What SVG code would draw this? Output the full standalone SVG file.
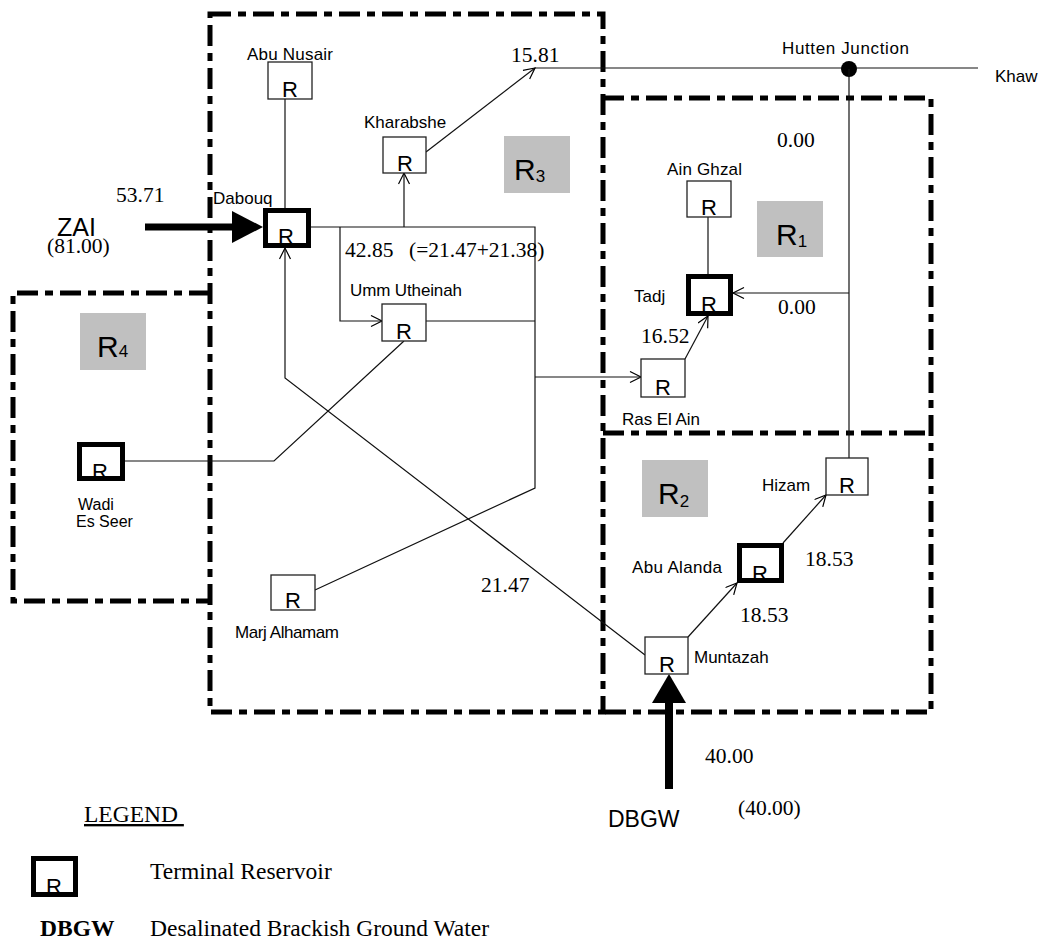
<svg xmlns="http://www.w3.org/2000/svg" width="1042" height="942" viewBox="0 0 1042 942">
<style>
.bg{fill:#fff}
.region{fill:none;stroke:#000;stroke-width:5;stroke-dasharray:21 7 8 7}
.box{fill:#fff;stroke:#222;stroke-width:1.3}
.tbox{fill:#fff;stroke:#000;stroke-width:5}
.r{font-family:"Liberation Sans",Arial,sans-serif;font-size:22px;text-anchor:middle;fill:#000}
.lbl{font-family:"Liberation Sans",Arial,sans-serif;font-size:17px;fill:#000}
.num{font-family:"Liberation Serif","Times New Roman",serif;font-size:21.5px;fill:#000}
.leg{font-family:"Liberation Serif","Times New Roman",serif;font-size:23.5px;fill:#000}
.gray{fill:#c0c0c0}
.rg{font-family:"Liberation Sans",Arial,sans-serif;font-size:30px;fill:#000}
.sub{font-size:17px}
.conn{fill:none;stroke:#111;stroke-width:1.2}
.thick{fill:none;stroke:#000}
</style>
<defs>
<marker id="oa" markerWidth="14" markerHeight="14" refX="12" refY="6" orient="auto" markerUnits="userSpaceOnUse">
<path d="M1,0.5 L12,6 L1,11.5" fill="none" stroke="#000" stroke-width="1.2"/>
</marker>
</defs>
<rect class="bg" x="0" y="0" width="1042" height="942"/>

<g id="regions">
<rect class="region" x="210" y="14" width="393" height="698"/>
<path class="region" d="M603,98 H931 V712 H603"/>
<path class="region" d="M603,433 H931"/>
<path class="region" d="M210,293 H13 V601 H210"/>
<rect class="gray" x="504" y="136" width="66" height="57"/>
<text class="rg" x="514" y="180">R<tspan class="sub" dy="2">3</tspan></text>
<rect class="gray" x="757" y="201" width="66" height="56"/>
<text class="rg" x="776" y="245">R<tspan class="sub" dy="2">1</tspan></text>
<rect class="gray" x="80" y="313" width="66" height="57"/>
<text class="rg" x="97" y="357">R<tspan class="sub" dy="0">4</tspan></text>
<rect class="gray" x="642" y="460" width="66" height="57"/>
<text class="rg" x="658" y="504">R<tspan class="sub" dy="3">2</tspan></text>
</g>

<g id="connectors">
<path class="conn" d="M285,99 V208"/>
<path class="conn" d="M311,227 H535 V488 L315,590"/>
<path class="conn" d="M340,227 V321 H382" marker-end="url(#oa)"/>
<path class="conn" d="M404,227 V173" marker-end="url(#oa)"/>
<path class="conn" d="M426,152 L535,68" marker-end="url(#oa)"/>
<path class="conn" d="M535,68 H978"/>
<circle cx="849" cy="69" r="8" fill="#000"/>
<path class="conn" d="M849,69 V458"/>
<path class="conn" d="M849,293 H733" marker-end="url(#oa)"/>
<path class="conn" d="M708,217 V274"/>
<path class="conn" d="M426,321 H535"/>
<path class="conn" d="M535,377 H641" marker-end="url(#oa)"/>
<path class="conn" d="M685,359 L708,316" marker-end="url(#oa)"/>
<path class="conn" d="M404,341 L274,461 H125"/>
<path class="conn" d="M645,655 L285,378 V248" marker-end="url(#oa)"/>
<path class="conn" d="M688,637 L737,583" marker-end="url(#oa)"/>
<path class="conn" d="M783,543 L826,495" marker-end="url(#oa)"/>
<path class="thick" d="M145,227 H234" stroke-width="7"/>
<polygon points="232,211 263,227 232,243" fill="#000"/>
<path class="thick" d="M669,789 V702" stroke-width="8"/>
<polygon points="652,703 669,674 686,703" fill="#000"/>
</g>

<g id="abu-nusair">
<rect class="box" x="268" y="62" width="44" height="37"/>
<text class="r" x="290" y="97">R</text>
<text class="lbl" x="247" y="60" textLength="86">Abu Nusair</text>
</g>
<g id="kharabshe">
<rect class="box" x="383" y="137" width="43" height="36"/>
<text class="r" x="405" y="171">R</text>
<text class="lbl" x="364" y="128">Kharabshe</text>
</g>
<g id="dabouq">
<rect class="tbox" x="265.5" y="210.5" width="43" height="35"/>
<text class="r" x="286" y="244">R</text>
<text class="lbl" x="213" y="204">Dabouq</text>
</g>
<g id="umm-utheinah">
<rect class="box" x="382" y="304" width="44" height="37"/>
<text class="r" x="404" y="339">R</text>
<text class="lbl" x="350" y="296" textLength="112">Umm Utheinah</text>
</g>
<g id="ain-ghzal">
<rect class="box" x="687" y="181" width="44" height="36"/>
<text class="r" x="709" y="215">R</text>
<text class="lbl" x="667" y="175" textLength="75">Ain Ghzal</text>
</g>
<g id="tadj">
<rect class="tbox" x="688.5" y="276.5" width="42" height="37"/>
<text class="r" x="709" y="312">R</text>
<text class="lbl" x="634" y="302">Tadj</text>
</g>
<g id="ras-el-ain">
<rect class="box" x="641" y="359" width="44" height="38"/>
<text class="r" x="663" y="395">R</text>
<text class="lbl" x="622" y="425" textLength="78">Ras El Ain</text>
</g>
<g id="hizam">
<rect class="box" x="826" y="458" width="42" height="37"/>
<text class="r" x="847" y="493">R</text>
<text class="lbl" x="762" y="491">Hizam</text>
</g>
<g id="abu-alanda">
<rect class="tbox" x="739.5" y="545.5" width="42" height="35"/>
<text class="r" x="760" y="581">R</text>
<text class="lbl" x="632" y="573" textLength="90">Abu Alanda</text>
</g>
<g id="muntazah">
<rect class="box" x="645" y="637" width="43" height="37"/>
<text class="r" x="667" y="672">R</text>
<text class="lbl" x="694" y="663">Muntazah</text>
</g>
<g id="wadi-es-seer">
<rect class="tbox" x="79.5" y="444.5" width="43" height="34"/>
<text class="r" x="100" y="479">R</text>
<text class="lbl" x="78" y="510" style="font-size:16px">Wadi</text>
<text class="lbl" x="76" y="527" style="font-size:16px">Es Seer</text>
</g>
<g id="marj-alhamam">
<rect class="box" x="271" y="575" width="44" height="35"/>
<text class="r" x="293" y="608">R</text>
<text class="lbl" x="235" y="638" textLength="104">Marj Alhamam</text>
</g>
<g id="hutten-junction">
<text class="lbl" x="782" y="54" textLength="127">Hutten Junction</text>
</g>
<g id="khaw">
<text class="lbl" x="995" y="82">Khaw</text>
</g>
<g id="zai">
<text class="lbl" x="57" y="236" style="font-size:25px">ZAI</text>
<text class="num" x="47" y="253">(81.00)</text>
<text class="num" x="116" y="202">53.71</text>
</g>
<g id="dbgw">
<text class="lbl" x="608" y="827" style="font-size:23px">DBGW</text>
<text class="num" x="705" y="763">40.00</text>
<text class="num" x="738" y="815">(40.00)</text>
</g>

<g id="flows">
<text class="num" x="511" y="62">15.81</text>
<text class="num" x="345" y="257">42.85</text>
<text class="num" x="409" y="257">(=21.47+21.38)</text>
<text class="num" x="777" y="147">0.00</text>
<text class="num" x="778" y="314">0.00</text>
<text class="num" x="641" y="343">16.52</text>
<text class="num" x="805" y="566">18.53</text>
<text class="num" x="740" y="622">18.53</text>
<text class="num" x="481" y="592">21.47</text>
</g>

<g id="legend">
<text class="leg" x="84" y="822" xml:space="preserve" text-decoration="underline">LEGEND </text>
<rect class="tbox" x="33.5" y="858.5" width="42" height="36"/>
<text class="r" x="54" y="894">R</text>
<text class="leg" x="150" y="879">Terminal Reservoir</text>
<text class="leg" x="40" y="936" font-weight="bold">DBGW</text>
<text class="leg" x="150" y="936">Desalinated Brackish Ground Water</text>
</g>
</svg>
